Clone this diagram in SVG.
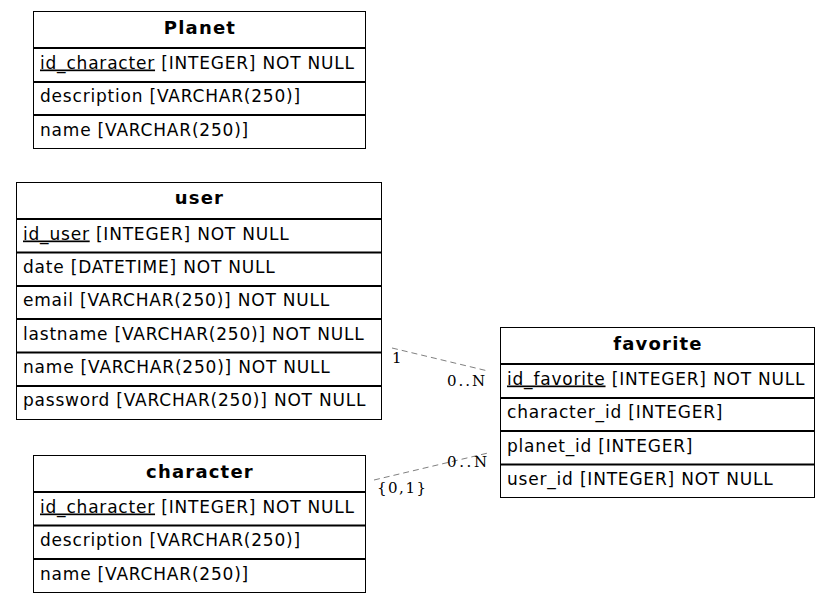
<svg xmlns="http://www.w3.org/2000/svg" width="831" height="603" viewBox="0 0 831 603">
<style>
.box{fill:#fff;stroke:#000;stroke-width:1}
.sep{stroke:#000;stroke-width:2}
.title{font-family:"DejaVu Sans",sans-serif;font-size:18px;font-weight:bold;letter-spacing:1.2px;text-anchor:middle;fill:#000}
.f{font-family:"DejaVu Sans",sans-serif;font-size:17px;letter-spacing:0.8px;fill:#000}
.pk{text-decoration:underline}
.edge{fill:none;stroke:#808080;stroke-width:1;stroke-dasharray:6,4}
.lbl{font-family:"DejaVu Serif",serif;font-size:15px;fill:#000}
</style>
<rect width="831" height="603" fill="#fff"/>
<g id="Planet">
<rect class="box" x="33.5" y="11.5" width="332" height="137"/>
<line class="sep" x1="33.5" y1="48" x2="365.5" y2="48"/>
<line class="sep" x1="33.5" y1="82" x2="365.5" y2="82"/>
<line class="sep" x1="33.5" y1="115" x2="365.5" y2="115"/>
<text class="title" x="200" y="33.5">Planet</text>
<text class="f" x="40" y="68.5"><tspan class="pk">id_character</tspan> [INTEGER] NOT NULL</text>
<text class="f" x="40" y="102">description [VARCHAR(250)]</text>
<text class="f" x="40" y="135.5">name [VARCHAR(250)]</text>
</g>
<g id="user">
<rect class="box" x="16.5" y="182.5" width="365" height="237"/>
<line class="sep" x1="16.5" y1="219" x2="381.5" y2="219"/>
<line class="sep" x1="16.5" y1="252.5" x2="381.5" y2="252.5"/>
<line class="sep" x1="16.5" y1="286" x2="381.5" y2="286"/>
<line class="sep" x1="16.5" y1="319" x2="381.5" y2="319"/>
<line class="sep" x1="16.5" y1="352.5" x2="381.5" y2="352.5"/>
<line class="sep" x1="16.5" y1="386" x2="381.5" y2="386"/>
<text class="title" x="199.5" y="204">user</text>
<text class="f" x="23" y="239.5"><tspan class="pk">id_user</tspan> [INTEGER] NOT NULL</text>
<text class="f" x="23" y="272.5">date [DATETIME] NOT NULL</text>
<text class="f" x="23" y="306">email [VARCHAR(250)] NOT NULL</text>
<text class="f" x="23" y="339.5">lastname [VARCHAR(250)] NOT NULL</text>
<text class="f" x="23" y="372.5">name [VARCHAR(250)] NOT NULL</text>
<text class="f" x="23" y="406">password [VARCHAR(250)] NOT NULL</text>
</g>
<g id="favorite">
<rect class="box" x="500.5" y="327.5" width="314" height="170"/>
<line class="sep" x1="500.5" y1="364" x2="814.5" y2="364"/>
<line class="sep" x1="500.5" y1="398" x2="814.5" y2="398"/>
<line class="sep" x1="500.5" y1="431" x2="814.5" y2="431"/>
<line class="sep" x1="500.5" y1="464.5" x2="814.5" y2="464.5"/>
<text class="title" x="658" y="349.5">favorite</text>
<text class="f" x="507" y="384.5"><tspan class="pk">id_favorite</tspan> [INTEGER] NOT NULL</text>
<text class="f" x="507" y="418">character_id [INTEGER]</text>
<text class="f" x="507" y="451.5">planet_id [INTEGER]</text>
<text class="f" x="507" y="484.5">user_id [INTEGER] NOT NULL</text>
</g>
<g id="character">
<rect class="box" x="33.5" y="455.5" width="332" height="137"/>
<line class="sep" x1="33.5" y1="492" x2="365.5" y2="492"/>
<line class="sep" x1="33.5" y1="525.5" x2="365.5" y2="525.5"/>
<line class="sep" x1="33.5" y1="559" x2="365.5" y2="559"/>
<text class="title" x="200" y="477.5">character</text>
<text class="f" x="40" y="512.5"><tspan class="pk">id_character</tspan> [INTEGER] NOT NULL</text>
<text class="f" x="40" y="546">description [VARCHAR(250)]</text>
<text class="f" x="40" y="579.5">name [VARCHAR(250)]</text>
</g>
<g id="connectors">
<line class="edge" x1="392" y1="348" x2="488" y2="371"/>
<text class="lbl" x="392" y="363">1</text>
<text class="lbl" x="447" y="386" textLength="38">0..N</text>
<line class="edge" x1="374" y1="480" x2="488" y2="453"/>
<text class="lbl" x="447" y="467" textLength="40">0..N</text>
<text class="lbl" x="377" y="493" textLength="49">{0,1}</text>
</g>
</svg>
